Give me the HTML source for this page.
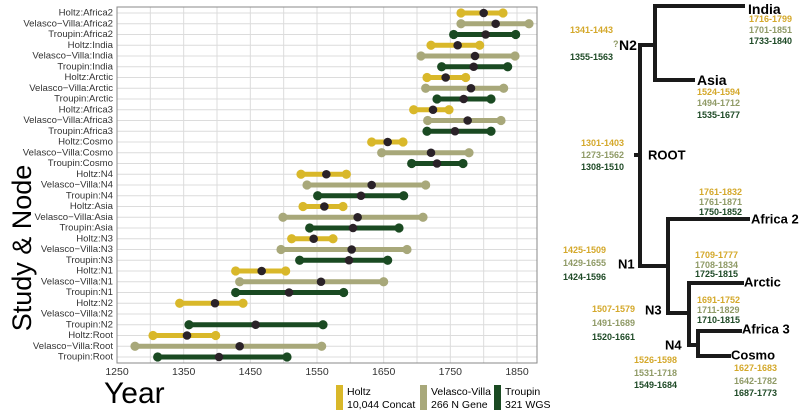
<!DOCTYPE html>
<html><head><meta charset="utf-8"><style>
body{margin:0;background:#fff;width:800px;height:412px;overflow:hidden}
svg text{font-family:"Liberation Sans",sans-serif}
</style></head><body>
<svg id="chart" width="800" height="412" viewBox="0 0 800 412">
<g id="grid"></g>
<g id="ylabels"></g>
<g id="xlabels"></g>
<g id="marks"></g>
<rect x="117" y="7" width="420" height="356" fill="none" stroke="#888" stroke-width="1"/>
<text x="22" y="248" font-size="27" transform="rotate(-90 22 248)" text-anchor="middle" dominant-baseline="central">Study &amp; Node</text>
<text x="104" y="403" font-size="30">Year</text>
<g font-size="10.5">
<rect x="336" y="385" width="7" height="25" fill="#d9b82a"/>
<text x="347" y="395">Holtz</text>
<text x="347" y="408">10,044 Concat</text>
<rect x="420" y="385" width="7" height="25" fill="#a8a87a"/>
<text x="431" y="395">Velasco-Villa</text>
<text x="431" y="408">266 N Gene</text>
<rect x="494" y="385" width="7" height="25" fill="#1a4a22"/>
<text x="505" y="395">Troupin</text>
<text x="505" y="408">321 WGS</text>
</g>
<g stroke="#1a1a1a" stroke-width="4" fill="none" stroke-linecap="square">
<path d="M640 45 V266 M640 45 H655 M655 6 V80 M655 6 H743 M655 80 H693 M636 155 H640 M640 266 H668 M668 219 V313 M668 219 H748 M668 313 H689 M689 283 V345 M689 283 H742 M689 345 H698 M698 331 V356 M698 331 H740 M698 356 H729"/>
</g>
<g font-weight="bold" dominant-baseline="central">
<text x="748" y="9" font-size="14">India</text>
<text x="749" y="19" font-size="9" fill="#d4a82a">1716-1799</text>
<text x="749" y="30" font-size="9" fill="#8f9a66">1701-1851</text>
<text x="749" y="41" font-size="9" fill="#1e4a26">1733-1840</text>
<text x="570" y="30" font-size="9" fill="#d4a82a">1341-1443</text>
<text x="613" y="44" font-size="9" fill="#8f9a66">?</text>
<text x="619" y="45" font-size="14">N2</text>
<text x="570" y="57" font-size="9" fill="#1e4a26">1355-1563</text>
<text x="697" y="80" font-size="14">Asia</text>
<text x="697" y="92" font-size="9" fill="#d4a82a">1524-1594</text>
<text x="697" y="103" font-size="9" fill="#8f9a66">1494-1712</text>
<text x="697" y="115" font-size="9" fill="#1e4a26">1535-1677</text>
<text x="581" y="143" font-size="9" fill="#d4a82a">1301-1403</text>
<text x="581" y="155" font-size="9" fill="#8f9a66">1273-1562</text>
<text x="581" y="167" font-size="9" fill="#1e4a26">1308-1510</text>
<text x="648" y="155" font-size="13">ROOT</text>
<text x="699" y="192" font-size="9" fill="#d4a82a">1761-1832</text>
<text x="699" y="202" font-size="9" fill="#8f9a66">1761-1871</text>
<text x="699" y="212" font-size="9" fill="#1e4a26">1750-1852</text>
<text x="751" y="219" font-size="13">Africa 2</text>
<text x="563" y="250" font-size="9" fill="#d4a82a">1425-1509</text>
<text x="563" y="263" font-size="9" fill="#8f9a66">1429-1655</text>
<text x="563" y="277" font-size="9" fill="#1e4a26">1424-1596</text>
<text x="618" y="264" font-size="13">N1</text>
<text x="695" y="255" font-size="9" fill="#d4a82a">1709-1777</text>
<text x="695" y="265" font-size="9" fill="#8f9a66">1708-1834</text>
<text x="695" y="274" font-size="9" fill="#1e4a26">1725-1815</text>
<text x="744" y="282" font-size="13">Arctic</text>
<text x="592" y="309" font-size="9" fill="#d4a82a">1507-1579</text>
<text x="645" y="310" font-size="13">N3</text>
<text x="592" y="323" font-size="9" fill="#8f9a66">1491-1689</text>
<text x="592" y="337" font-size="9" fill="#1e4a26">1520-1661</text>
<text x="697" y="300" font-size="9" fill="#d4a82a">1691-1752</text>
<text x="697" y="310" font-size="9" fill="#8f9a66">1711-1829</text>
<text x="697" y="320" font-size="9" fill="#1e4a26">1710-1815</text>
<text x="742" y="329" font-size="13">Africa 3</text>
<text x="665" y="345" font-size="13">N4</text>
<text x="634" y="360" font-size="9" fill="#d4a82a">1526-1598</text>
<text x="634" y="373" font-size="9" fill="#8f9a66">1531-1718</text>
<text x="634" y="385" font-size="9" fill="#1e4a26">1549-1684</text>
<text x="731" y="355" font-size="13">Cosmo</text>
<text x="734" y="368" font-size="9" fill="#d4a82a">1627-1683</text>
<text x="734" y="381" font-size="9" fill="#8f9a66">1642-1782</text>
<text x="734" y="393" font-size="9" fill="#1e4a26">1687-1773</text>
</g>
</svg>
<script>
const categories=["Holtz:Africa2","Velasco\u2212Villa:Africa2","Troupin:Africa2","Holtz:India","Velasco\u2212Villa:India","Troupin:India","Holtz:Arctic","Velasco\u2212Villa:Arctic","Troupin:Arctic","Holtz:Africa3","Velasco\u2212Villa:Africa3","Troupin:Africa3","Holtz:Cosmo","Velasco\u2212Villa:Cosmo","Troupin:Cosmo","Holtz:N4","Velasco\u2212Villa:N4","Troupin:N4","Holtz:Asia","Velasco\u2212Villa:Asia","Troupin:Asia","Holtz:N3","Velasco\u2212Villa:N3","Troupin:N3","Holtz:N1","Velasco\u2212Villa:N1","Troupin:N1","Holtz:N2","Velasco\u2212Villa:N2","Troupin:N2","Holtz:Root","Velasco\u2212Villa:Root","Troupin:Root"];
const lowValues=[1766,1766,1755,1721,1706,1737,1715,1713,1730,1695,1716,1715,1632,1647,1692,1526,1535,1551,1529,1499,1539,1512,1496,1524,1428,1434,1428,1344,null,1358,1304,1277,1311];
const meanValues=[1800,1818,1803,1761,1787,1785,1743,1781,1770,1724,1776,1757,1656,1721,1730,1564,1632,1616,1561,1611,1604,1545,1602,1598,1467,1556,1508,1397,null,1458,1355,1434,1403];
const highValues=[1829,1868,1848,1794,1847,1836,1773,1830,1811,1748,1826,1811,1679,1778,1769,1594,1713,1680,1589,1709,1673,1574,1685,1656,1503,1650,1590,1439,null,1559,1398,1557,1505];
const xTicks=[1250,1350,1450,1550,1650,1750,1850];
const xMinor=[1300,1400,1500,1600,1700,1800];
const NS="http://www.w3.org/2000/svg";
const colors={Holtz:"#d9b82a",Velasco:"#a8a87a",Troupin:"#1a4a22"};
const X=v=>117+(v-1250)*420/630;
const rowTop=13, rowBottom=357;
const Y=i=>rowTop+i*(rowBottom-rowTop)/(categories.length-1);
function mk(tag,attrs,parent){const e=document.createElementNS(NS,tag);for(const k in attrs)e.setAttribute(k,attrs[k]);parent.appendChild(e);return e;}
const grid=document.getElementById('grid'),yl=document.getElementById('ylabels'),xl=document.getElementById('xlabels'),marks=document.getElementById('marks');
xTicks.concat(xMinor).forEach(t=>{const l=mk('line',{x1:X(t),x2:X(t),y1:7,y2:363,stroke:'#dcdcdc','stroke-width':1},grid);

});
xTicks.forEach(t=>{const tx=mk('text',{x:X(t),y:372,'font-size':10.5,'text-anchor':'middle','dominant-baseline':'central',fill:'#333'},xl);tx.textContent=t;

});
categories.forEach((c,i)=>{const y=Y(i);
const g=mk('line',{x1:117,x2:537,y1:y,y2:y,stroke:'#dcdcdc','stroke-width':1},grid);


const t=mk('text',{x:113,y:y,'font-size':9.6,'text-anchor':'end','dominant-baseline':'central',fill:'#333'},yl);t.textContent=c;


if(lowValues[i]==null)return;
const col=colors[c.startsWith('Holtz')?'Holtz':c.startsWith('Troupin')?'Troupin':'Velasco'];
const ln=mk('line',{x1:X(lowValues[i]),x2:X(highValues[i]),y1:y,y2:y,stroke:col,'stroke-width':5},marks);


[lowValues[i],highValues[i]].forEach(v=>{const e=mk('circle',{cx:X(v),cy:y,r:4.6,fill:col},marks);

});
const m=mk('circle',{cx:X(meanValues[i]),cy:y,r:4.3,fill:'#2a2228'},marks);


});
</script>
</body></html>
